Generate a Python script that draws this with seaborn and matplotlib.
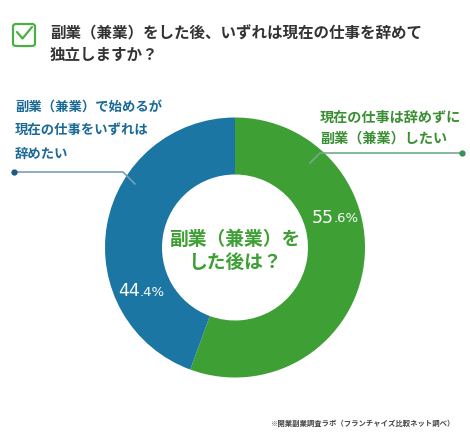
import matplotlib
matplotlib.use("Agg")
import matplotlib.pyplot as plt
import seaborn as sns
from matplotlib.patches import FancyBboxPatch
from matplotlib.lines import Line2D

# ----------------------------
# Data
# ----------------------------

answers = ["現在の仕事は辞めずに\n副業（兼業）したい", "副業（兼業）で始めるが\n現在の仕事をいずれは\n辞めたい"]
shares = [55.6, 44.4]
colors = ["#3e9f35", "#1b76a4"]
label_colors = ["#3a8f33", "#1a6996"]
line_colors = ["#72ad8a", "#779fb8"]

title = "副業（兼業）をした後、いずれは現在の仕事を辞めて\n独立しますか？"
center_text = "副業（兼業）を\nした後は？"
source = "※開業副業調査ラボ（フランチャイズ比較ネット調べ）"

# ----------------------------
# Figure
# ----------------------------

sns.set_theme(style="white")
plt.rcParams["font.family"] = ["Noto Sans CJK JP", "DejaVu Sans"]

W, H = 470, 444
fig = plt.figure(figsize=(W / 100, H / 100), dpi=100)
fig.patch.set_facecolor("white")


def fx(x):
    return x / W


def fy(y):
    return 1 - y / H


# donut axes: centre (235, 247.5), radius 130 px
R = 130
cx, cy = 235, 247.5
ax = fig.add_axes([fx(cx - R), fy(cy + R), 2 * R / W, 2 * R / H])
wedges, _ = ax.pie(
    shares,
    colors=colors,
    startangle=90,
    counterclock=False,
    radius=1,
    wedgeprops=dict(width=57 / 130, edgecolor="none"),
)
ax.set_xlim(-1, 1)
ax.set_ylim(-1, 1)
ax.set_aspect("equal")
ax.axis("off")

# centre question
fig.text(fx(235), fy(251), center_text, ha="center", va="center", fontsize=13.5,
         fontweight="bold", color="#3e9f35", linespacing=1.3)

# percentage labels (big integer part, small decimal part)
pct_pos = [(312, 218), (118, 291)]
for share, (px, py) in zip(shares, pct_pos):
    whole, dec = f"{share:.1f}".split(".")
    t = fig.text(fx(px), fy(py), whole, color="white", fontsize=12.5,
                 family="DejaVu Sans", va="center", ha="left")
    fig.canvas.draw()
    bb = t.get_window_extent()
    fig.text(fx(px) + bb.width / W, fy(py + 1), "." + dec + "%", color="white",
             fontsize=9.5, family="DejaVu Sans", va="center", ha="left")

# ----------------------------
# Title with check icon
# ----------------------------

box = FancyBboxPatch((fx(13), fy(46)), fx(22), 22 / H,
                     boxstyle="round,pad=0,rounding_size=0.006",
                     transform=fig.transFigure, fill=False,
                     edgecolor="#4caf45", linewidth=1.6)
fig.patches.append(box)
fig.lines.append(Line2D([fx(17), fx(22.5), fx(32)], [fy(32), fy(38.5), fy(27)],
                        transform=fig.transFigure, color="#4caf45", linewidth=1.6))

# block centres: title lines at y=33/55, labels 107/130/153 and 117/139
fig.text(fx(50), fy(44), title, ha="left", va="center", fontsize=11.2,
         fontweight="bold", color="#333333", linespacing=1.45)

# ----------------------------
# Category labels with leader lines
# ----------------------------

# right (green)
fig.text(fx(320), fy(128), answers[0], ha="left", va="center", fontsize=10.2,
         fontweight="bold", color=label_colors[0], linespacing=1.6)
fig.lines.append(Line2D([fx(310), fx(320), fx(462)], [fy(163), fy(153), fy(153)],
                        transform=fig.transFigure, color=line_colors[0], linewidth=1.2))
fig.lines.append(Line2D([fx(462)], [fy(153)], transform=fig.transFigure,
                        marker="o", markersize=3.5, color="#3a8f55"))

# left (blue)
fig.text(fx(15), fy(130), answers[1], ha="left", va="center", fontsize=9.6,
         fontweight="bold", color=label_colors[1], linespacing=1.85)
fig.lines.append(Line2D([fx(14), fx(123), fx(135)], [fy(172), fy(172), fy(184)],
                        transform=fig.transFigure, color=line_colors[1], linewidth=1.2))
fig.lines.append(Line2D([fx(14)], [fy(172)], transform=fig.transFigure,
                        marker="o", markersize=3.5, color="#1a5a80"))

# ----------------------------
# Source
# ----------------------------

fig.text(fx(455), fy(423), source, ha="right", va="center", fontsize=5.3,
         fontweight="bold", color="#444444")

plt.savefig("out.png", dpi=100, facecolor="white")
